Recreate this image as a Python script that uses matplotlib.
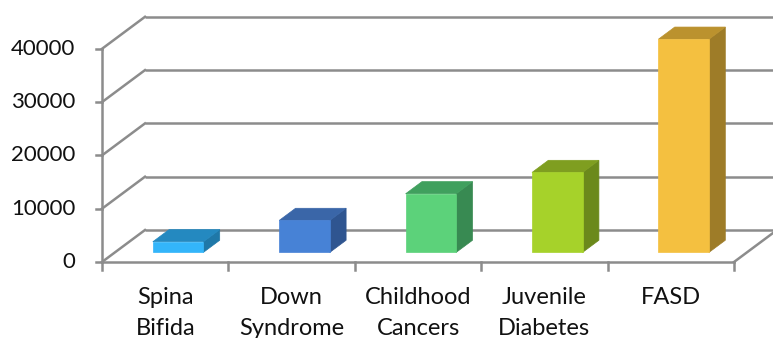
import numpy as np
import matplotlib
matplotlib.use("Agg")
import matplotlib.pyplot as plt
from matplotlib.patches import Polygon

# Data
categories = ["Spina\nBifida", "Down\nSyndrome", "Childhood\nCancers", "Juvenile\nDiabetes", "FASD"]
values = [2000, 6000, 11000, 15000, 40000]
y_ticks = [0, 10000, 20000, 30000, 40000]
front_colors = ["#33B5FA", "#4782D6", "#5CD27A", "#A6D22A", "#F4C040"]
top_colors = ["#2489C0", "#3A66A8", "#40A05E", "#7F9E20", "#BB922E"]
side_colors = ["#1F78A8", "#2F5590", "#388A52", "#6B891B", "#9E7C28"]

plt.rcParams['font.family'] = ['Lato', 'DejaVu Sans']

W, H = 773, 338
fig = plt.figure(figsize=(W / 100, H / 100), dpi=100)
ax = fig.add_axes([0, 0, 1, 1])
ax.axis('off')

# pixel geometry of the front plane
x0_px, cat_px = 102, 126.4
y0_px, per10k_px = 262, 53.3
ax.set_xlim(-x0_px / cat_px, (W - x0_px) / cat_px)
ax.set_ylim(-(H - y0_px) / per10k_px * 10000, y0_px / per10k_px * 10000)

# oblique depth offset (full depth of the box)
DX, DY = 0.34, 6000
n = len(categories)
grid_c = "#8C8C8C"
lw = 1.8

# back wall gridlines + left wall diagonals + tick marks
for v in y_ticks:
    ax.plot([DX, 6.0], [v + DY, v + DY], color=grid_c, lw=lw, zorder=1, solid_capstyle='butt')
    ax.plot([0, DX], [v, v + DY], color=grid_c, lw=lw, zorder=1)
    ax.plot([-0.045, 0], [v, v], color=grid_c, lw=lw, zorder=1)
    ax.text(-0.21, v, f"{v}", ha='right', va='center', fontsize=16, color="#111111")

# front vertical axis and floor
ax.plot([0, 0], [0, y_ticks[-1]], color=grid_c, lw=lw, zorder=2)
ax.plot([0, n], [0, 0], color=grid_c, lw=lw, zorder=2)
ax.plot([n, n + DX], [0, DY], color=grid_c, lw=lw, zorder=2)
for i in range(n + 1):
    ax.plot([i, i], [0, -1500], color=grid_c, lw=lw, zorder=2)

# 3D bars
d1, d2 = 0.30, 0.68
bw = 0.40
for i, (v, fc, tc, sc) in enumerate(zip(values, front_colors, top_colors, side_colors)):
    xl = i + 0.5 - bw / 2 + DX * d1
    xr = xl + bw
    yb = DY * d1
    yt = yb + v
    ddx, ddy = DX * (d2 - d1), DY * (d2 - d1)
    front = [(xl, yb), (xr, yb), (xr, yt), (xl, yt)]
    top = [(xl, yt), (xr, yt), (xr + ddx, yt + ddy), (xl + ddx, yt + ddy)]
    side = [(xr, yb), (xr + ddx, yb + ddy), (xr + ddx, yt + ddy), (xr, yt)]
    for pts, c in ((side, sc), (top, tc), (front, fc)):
        ax.add_patch(Polygon(pts, closed=True, facecolor=c, edgecolor=c, lw=0.5, zorder=5))

# category labels
for i, lab in enumerate(categories):
    ax.text(i + 0.5, -4700, lab, ha='center', va='top', fontsize=17,
            color="#111111", linespacing=1.6)

fig.savefig("out.png", dpi=100)
